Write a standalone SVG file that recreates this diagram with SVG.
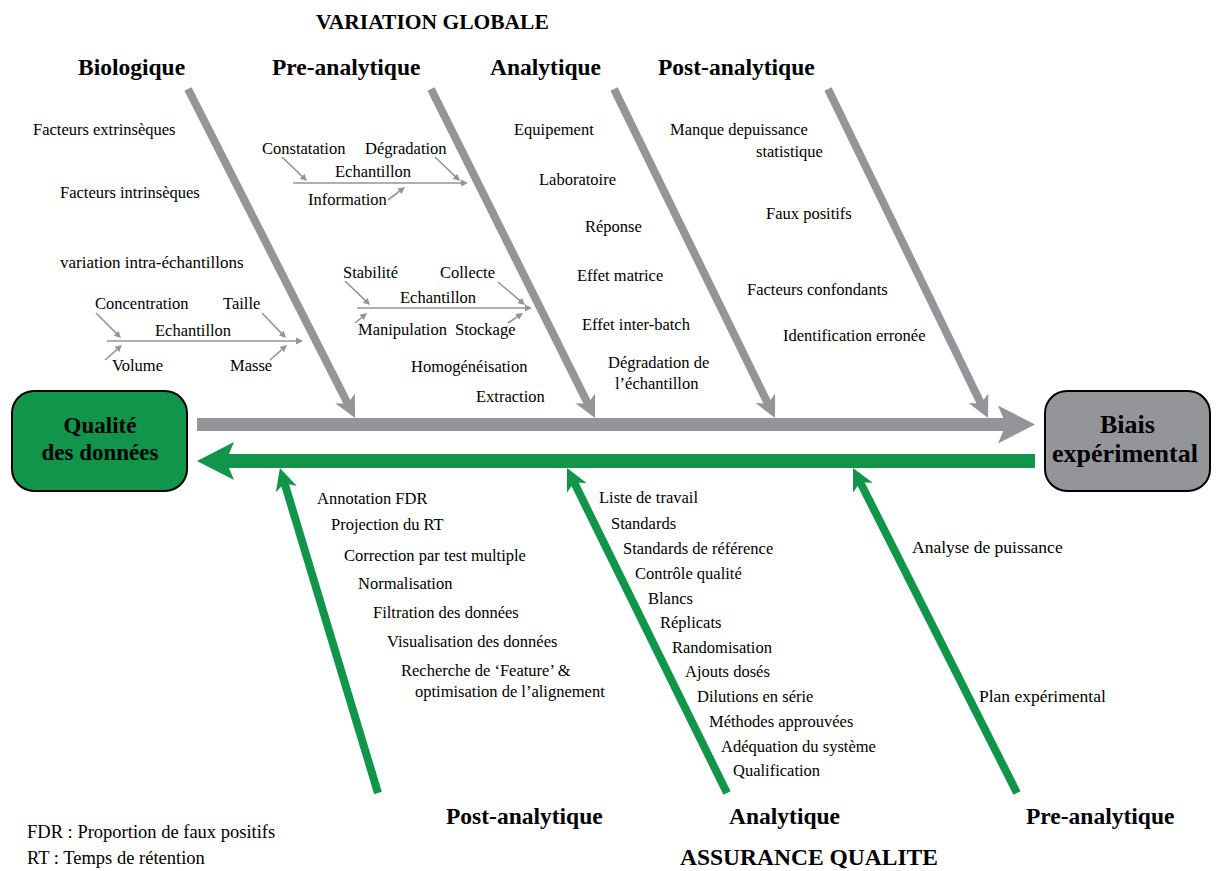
<svg xmlns="http://www.w3.org/2000/svg" width="1218" height="871" viewBox="0 0 1218 871">
<style>
text{font-family:"Liberation Serif","Times New Roman",serif;fill:#000}
.h{font-size:23.5px;font-weight:bold}
.hv{font-size:21.5px;font-weight:bold}
.t{font-size:16.5px}
.tl{font-size:18.5px}
.tp{font-size:17.5px}
.bx{font-size:23px;font-weight:bold;text-anchor:middle}
.bx2{font-size:26px;font-weight:bold;text-anchor:middle}
.gb{stroke:#939598;stroke-width:8;fill:none}
.grb{stroke:#10954a;stroke-width:8;fill:none}
.sb{stroke:#939598;stroke-width:1.6;fill:none}
</style>
<defs>
<marker id="ag" markerUnits="userSpaceOnUse" viewBox="0 -12 23 24" refX="8" refY="0" markerWidth="23" markerHeight="24" orient="auto"><path d="M22,0 L0,-11 L6,0 L0,11 Z" fill="#939598"/></marker>
<marker id="agr" markerUnits="userSpaceOnUse" viewBox="0 -12 23 24" refX="8" refY="0" markerWidth="23" markerHeight="24" orient="auto"><path d="M22,0 L0,-11 L6,0 L0,11 Z" fill="#10954a"/></marker>
<marker id="bg" markerUnits="userSpaceOnUse" viewBox="0 -20 38 40" refX="12" refY="0" markerWidth="38" markerHeight="40" orient="auto"><path d="M37,0 L0,-19 L8,0 L0,19 Z" fill="#939598"/></marker>
<marker id="bgr" markerUnits="userSpaceOnUse" viewBox="0 -20 38 40" refX="12" refY="0" markerWidth="38" markerHeight="40" orient="auto"><path d="M37,0 L0,-19 L8,0 L0,19 Z" fill="#10954a"/></marker>
<marker id="as" markerUnits="userSpaceOnUse" viewBox="0 -4 8 8" refX="5" refY="0" markerWidth="8" markerHeight="8" orient="auto"><path d="M7,0 L0,-3.5 L0,3.5 Z" fill="#939598"/></marker>
</defs>

<g id="connectors">
<line x1="197" y1="424.5" x2="1010" y2="424.5" stroke="#939598" stroke-width="13" marker-end="url(#bg)"/>
<line x1="1035" y1="461" x2="222" y2="461" stroke="#10954a" stroke-width="14" marker-end="url(#bgr)"/>
<line class="gb" x1="188" y1="89" x2="348.7" y2="405.5" marker-end="url(#ag)"/>
<line class="gb" x1="431" y1="89" x2="588.8" y2="405.5" marker-end="url(#ag)"/>
<line class="gb" x1="614" y1="89" x2="768.8" y2="405.4" marker-end="url(#ag)"/>
<line class="gb" x1="828" y1="89" x2="981.9" y2="405.4" marker-end="url(#ag)"/>
<line class="grb" x1="378" y1="793" x2="284" y2="481.4" marker-end="url(#agr)"/>
<line class="grb" x1="727" y1="793" x2="573.2" y2="480.6" marker-end="url(#agr)"/>
<line class="grb" x1="1017" y1="793" x2="859.3" y2="480.5" marker-end="url(#agr)"/>
<!-- sub-bone 1 -->
<line class="sb" x1="107" y1="341" x2="301" y2="341" marker-end="url(#as)"/>
<line class="sb" x1="96" y1="313" x2="119.6" y2="336.6" marker-end="url(#as)"/>
<line class="sb" x1="262" y1="313" x2="284.6" y2="336.6" marker-end="url(#as)"/>
<line class="sb" x1="105" y1="360" x2="120.5" y2="346.3" marker-end="url(#as)"/>
<line class="sb" x1="270" y1="360" x2="285.5" y2="346.3" marker-end="url(#as)"/>
<!-- sub-bone 2 -->
<line class="sb" x1="293" y1="183" x2="466" y2="183" marker-end="url(#as)"/>
<line class="sb" x1="282" y1="157" x2="305.6" y2="179.6" marker-end="url(#as)"/>
<line class="sb" x1="435" y1="157" x2="458.6" y2="179.6" marker-end="url(#as)"/>
<line class="sb" x1="388" y1="200" x2="403.4" y2="188.2" marker-end="url(#as)"/>
<!-- sub-bone 3 -->
<line class="sb" x1="357" y1="308" x2="530" y2="308" marker-end="url(#as)"/>
<line class="sb" x1="345" y1="281" x2="368.6" y2="303.6" marker-end="url(#as)"/>
<line class="sb" x1="498" y1="282" x2="523.5" y2="303.7" marker-end="url(#as)"/>
<line class="sb" x1="355" y1="323" x2="365.5" y2="314.3" marker-end="url(#as)"/>
<line class="sb" x1="508" y1="323" x2="521.3" y2="314.1" marker-end="url(#as)"/>
</g>

<g id="node-qualite">
<rect x="12" y="391" width="175" height="100" rx="22" fill="#10954a" stroke="#000" stroke-width="2"/>
<text class="bx" x="100" y="433">Qualité</text>
<text class="bx" x="100" y="460">des données</text>
</g>
<g id="node-biais">
<rect x="1045" y="391" width="165" height="100" rx="22" fill="#939598" stroke="#000" stroke-width="2"/>
<text class="bx2" x="1127.5" y="433">Biais</text>
<text class="bx2" x="1125" y="462">expérimental</text>
</g>

<g id="headers">
<text class="hv" x="316" y="29">VARIATION GLOBALE</text>
<text class="h" x="78" y="75">Biologique</text>
<text class="h" x="272" y="75">Pre-analytique</text>
<text class="h" x="490" y="75">Analytique</text>
<text class="h" x="658" y="75">Post-analytique</text>
<text class="h" x="446" y="824">Post-analytique</text>
<text class="h" x="729" y="824">Analytique</text>
<text class="h" x="1026" y="824">Pre-analytique</text>
<text class="h" x="680" y="865">ASSURANCE QUALITE</text>
</g>

<g id="biologique-labels">
<text class="t" x="33" y="135">Facteurs extrinsèques</text>
<text class="t" x="60" y="198">Facteurs intrinsèques</text>
<text class="t" x="60" y="268" style="font-size:17px">variation intra-échantillons</text>
<text class="t" x="95" y="309">Concentration</text>
<text class="t" x="223" y="309">Taille</text>
<text class="t" x="155" y="336">Echantillon</text>
<text class="t" x="112" y="371">Volume</text>
<text class="t" x="230" y="371">Masse</text>
</g>

<g id="preanalytique-labels">
<text class="t" x="262" y="154">Constatation</text>
<text class="t" x="365" y="154">Dégradation</text>
<text class="t" x="335" y="177">Echantillon</text>
<text class="t" x="308" y="205">Information</text>
<text class="t" x="343" y="278">Stabilité</text>
<text class="t" x="440" y="278">Collecte</text>
<text class="t" x="400" y="303">Echantillon</text>
<text class="t" x="358" y="335">Manipulation</text>
<text class="t" x="455" y="335">Stockage</text>
<text class="t" x="411" y="372">Homogénéisation</text>
<text class="t" x="476" y="402">Extraction</text>
</g>

<g id="analytique-labels">
<text class="t" x="514" y="135">Equipement</text>
<text class="t" x="539" y="185">Laboratoire</text>
<text class="t" x="585" y="232">Réponse</text>
<text class="t" x="577" y="281">Effet matrice</text>
<text class="t" x="582" y="330">Effet inter-batch</text>
<text class="t" x="608" y="368">Dégradation de</text>
<text class="t" x="615" y="389">l’échantillon</text>
</g>

<g id="postanalytique-labels">
<text class="t" x="670" y="135">Manque depuissance</text>
<text class="t" x="756" y="157">statistique</text>
<text class="t" x="766" y="219">Faux positifs</text>
<text class="t" x="747" y="295">Facteurs confondants</text>
<text class="t" x="783" y="341">Identification erronée</text>
</g>

<g id="qa-post-labels">
<text class="t" x="317" y="504">Annotation FDR</text>
<text class="t" x="331" y="530">Projection du RT</text>
<text class="t" x="344" y="561">Correction par test multiple</text>
<text class="t" x="358" y="589">Normalisation</text>
<text class="t" x="373" y="618">Filtration des données</text>
<text class="t" x="387" y="647">Visualisation des données</text>
<text class="t" x="401" y="676">Recherche de ‘Feature’ &amp;</text>
<text class="t" x="415" y="697">optimisation de l’alignement</text>
</g>

<g id="qa-analytique-labels">
<text class="t" x="599" y="503">Liste de travail</text>
<text class="t" x="611" y="529">Standards</text>
<text class="t" x="623" y="554">Standards de référence</text>
<text class="t" x="635" y="579">Contrôle qualité</text>
<text class="t" x="648" y="604">Blancs</text>
<text class="t" x="660" y="628">Réplicats</text>
<text class="t" x="672" y="653">Randomisation</text>
<text class="t" x="685" y="677">Ajouts dosés</text>
<text class="t" x="697" y="702">Dilutions en série</text>
<text class="t" x="709" y="727">Méthodes approuvées</text>
<text class="t" x="721" y="752">Adéquation du système</text>
<text class="t" x="733" y="776">Qualification</text>
</g>

<g id="qa-pre-labels">
<text class="tp" x="912" y="553">Analyse de puissance</text>
<text class="tp" x="979" y="702">Plan expérimental</text>
</g>

<g id="legend">
<text class="tl" x="27" y="838">FDR : Proportion de faux positifs</text>
<text class="tl" x="27" y="864">RT : Temps de rétention</text>
</g>
</svg>
